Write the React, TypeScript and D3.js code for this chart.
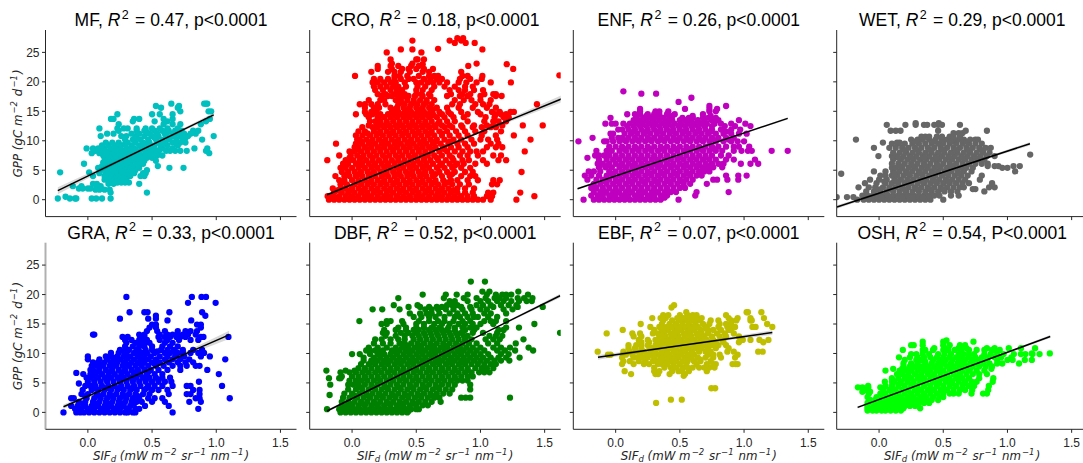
import * as d3 from 'd3'

type Row = [number, number[]]

// each row: one GPP value and the SIF values at that height
const mfRows: Row[] = [
  [0.2, [-.234, -.14, -.1, -.09, .03, .065, .11, .177]], [0.5, [-.174]], [1.2, [.177, .46]],
  [1.7, [.06, .09, .13, .17]], [1.9, [-.07, -.04, 0, .02]], [2.3, [-.117, -.05, .07, .1]],
  [2.7, [.04, .07, .16, .2, .4]], [2.9, [.19, .23, .26, .29, .32]], [3.4, [.13, .16, .2, .24, .3]],
  [4, [.04, .13, .17, .21, .25, .29, .33, .41, .44]], [4.5, [.09, .14, .19, .23, .27, .31, .36, .43, .45]],
  [4.65, [-.216, .01]], [5, [.1, .15, .2, .24, .28, .33, .37, .46]], [5.4, [.08, .12, .17, .22, .27, .31, .36, .4, .635, .745]],
  [5.7, [.11, .15, .2, .25, .3, .34, .39, .545]], [6.1, [-.03, .14, .18, .23, .28, .33, .38, .43]],
  [6.6, [.15, .2, .25, .3, .35, .4, .44, .53]], [7.1, [.13, .18, .23, .28, .33, .38, .42, .46, .5]],
  [7.5, [.12, .16, .21, .26, .31, .36, .43, .48, .54, .58]], [7.9, [.03, .09, .14, .19, .24, .29, .34, .4, .45, .5, .55, .945]],
  [8.3, [.06, .11, .17, .22, .27, .32, .38, .47, .53, .61, .64, .68, .72, .77, .92]], [8.7, [-.01, .04, .08, .13, .18, .24, .3, .36, .44, .5, .58, .66, .83, .93]],
  [9.2, [.11, .16, .21, .26, .34, .4, .46, .52, .57, .62, .7]], [9.7, [.14, .19, .24, .31, .37, .43, .48, .54, .6, .66, .72, .76]],
  [10.2, [.29, .35, .41, .47, .53, .58, .63, .69, .74, .89]], [10.8, [.1, .26, .3, .37, .44, .5, .55, .61, .67, .72, .78, .98]],
  [11.2, [.15, .2, .34, .4, .48, .54, .6, .66, .7, .75, .8, .84]], [11.7, [.24, .38, .44, .52, .58, .63, .68, .73, .82, .86]],
  [12.1, [.09, .23, .28, .31, .38, .45, .5, .56, .62, .7]], [12.8, [.24, .59, .66, .72, .88]], [13.3, [.35, .52, .62, .92]],
  [13.7, [.18, .2, .36, .4, .59, .66, .95]], [14.5, [.23, .5, .56, .66]], [15, [.72, .94, .96]], [15.6, [.57, .7]],
  [15.9, [.53, .71]], [16.3, [.65, .906, .93, .92]],
  [3.7, [.18, .27]], [4.8, [.16, .26, .35]], [6.35, [.12, .21, .31, .41]], [7.3, [.2, .3, .4, .52]], [8.5, [.2, .34, .42, .56]], [9.45, [.29, .44, .58, .69]], [10.5, [.38, .52, .64, .76]], [11.45, [.46, .62, .72]],
]

const croRows: Row[] = [
  [0, [-.18, -.14, -.1, -.06, -.02, .02, .06, .1, .14, .18, .22, .26, .3, .34, .38, .42, .46, .5, .54, .58, .62, .66, .7, .74, .78, .82, .86, .9, .94, .98, 1.02, 1.08, 1.28]],
  [.6, [-.19, -.15, -.1, -.05, 0, .05, .1, .15, .2, .25, .3, .35, .4, .45, .5, .55, .6, .65, .7, .75, .8, .85, .9, .95, 1.05, 1.09, 1.42]],
  [1.2, [-.14, -.08, -.03, .02, .07, .12, .17, .22, .27, .32, .37, .42, .47, .52, .57, .62, .67, .72, .77, .82, .88, .94, 1.06, 1.1, 1.31]],
  [1.9, [-.15, -.09, -.05, 0, .05, .1, .15, .2, .25, .3, .35, .4, .45, .5, .55, .6, .65, .7, .75, .82, .88, .95]],
  [2.6, [-.09, -.04, .02, .07, .12, .17, .22, .27, .32, .37, .42, .47, .52, .57, .62, .67, .72, .78, .84, .91, 1.09, 1.13]],
  [3.3, [-.1, -.06, 0, .05, .1, .15, .2, .25, .3, .35, .4, .45, .5, .55, .6, .65, .71, .77, .82, .9, .98, 1.1, 1.15]],
  [4, [-.13, -.06, -.02, .03, .08, .13, .18, .23, .28, .33, .38, .43, .48, .53, .58, .63, .7, .76, .85, .92, .96]],
  [4.7, [-.08, -.03, .02, .07, .12, .17, .22, .27, .32, .37, .42, .47, .52, .57, .62, .68, .74, .8, .88, .94, 1.32]],
  [5.4, [-.09, -.05, 0, .05, .1, .15, .2, .25, .3, .35, .4, .45, .5, .55, .6, .66, .72, .78, .85, .92]],
  [6.1, [-.07, -.03, .03, .08, .13, .18, .23, .28, .33, .38, .43, .48, .53, .58, .63, .7, .76, .82, .87, .96, 1.05]],
  [6.7, [-.193, -.05, -.02, .01, .06, .11, .16, .21, .26, .31, .36, .41, .46, .51, .56, .61, .67, .73, .79, .86, .91, 1.02, 1.14, 1.2]],
  [7.5, [-.1, -.01, .04, .09, .14, .19, .24, .29, .34, .39, .44, .49, .54, .59, .64, .7, .76, .84, .9, .98, 1.1, 1.16]],
  [8.2, [-.02, .02, .07, .12, .17, .22, .27, .32, .37, .42, .47, .52, .57, .62, .68, .74, .8, .86, .92, .97, 1.02, 1.345]],
  [8.9, [.02, .05, .1, .15, .2, .25, .3, .35, .4, .45, .5, .55, .6, .65, .71, .77, .83, .9, 1.05, 1.12, 1.17]],
  [9.5, [-.125, .03, .08, .13, .18, .23, .28, .33, .38, .43, .48, .53, .58, .63, .69, .75, .82, .88, .95, 1.08, 1.14]],
  [10.2, [.04, .06, .11, .16, .21, .26, .31, .36, .41, .46, .51, .56, .61, .66, .72, .79, .85, .93, 1, 1.06, 1.13, 1.39]],
  [10.9, [.03, .08, .14, .19, .24, .29, .34, .39, .44, .49, .54, .59, .64, .7, .76, .83, .9, 1.01, 1.12, 1.26]],
  [11.6, [.05, .1, .17, .22, .27, .32, .37, .42, .47, .52, .57, .62, .68, .74, .81, .88, .96, 1.03, 1.16]],
  [12.3, [.08, .16, .2, .25, .3, .35, .4, .45, .5, .55, .6, .65, .72, .78, .86, .94, 1.01, 1.08, 1.12]],
  [12.6, [.13, .19, .24, .29, .34, .39, .44, .49, .54, .59, .64, .7, .76, .85, .95, 1.05, 1.1, 1.17, 1.33, 1.485]],
  [13.3, [.14, .18, .22, .27, .32, .37, .42, .47, .52, .57, .62, .68, .74, .8, .9, 1.03, 1.1, 1.14, 1.2]],
  [14, [.13, .2, .25, .3, .35, .4, .45, .5, .55, .6, .66, .72, .79, .87, 1.04, 1.11, 1.18, 1.22]],
  [14.5, [.03, .11, .16, .22, .28, .33, .38, .43, .48, .53, .58, .63, .7, .77, .9, 1, 1.12, 1.16, 1.2]],
  [14.9, [.1, .15, .19, .31, .36, .41, .46, .51, .56, .61, .68, .75, .85, .98, 1.09, 1.15, 1.235, 1.26]],
  [15.6, [.1, .17, .21, .3, .35, .4, .45, .5, .55, .6, .66, .74, .83, .94, 1.05, 1.12]],
  [16.2, [.06, .1, .15, .2, .26, .36, .41, .46, .51, .56, .62, .78, .84, .96, 1.02, 1.07, 1.44]],
  [16.9, [.13, .22, .25, .34, .38, .43, .48, .53, .58, .64, .8, .87, .93, 1, 1.08]],
  [17.6, [.23, .28, .31, .36, .4, .44, .49, .55, .61, .74, .84, .9, 1, 1.12, 1.165]],
  [17.9, [.2, .26, .33, .37, .41, .5, .54, .6, .77, .86, .92, 1.03, 1.12, 1.1]],
  [18.6, [.18, .24, .3, .35, .39, .5, .55, .62, .76, .83, .88, .95, 1.02]],
  [19.2, [.17, .22, .27, .32, .36, .42, .51, .57, .64, .72, .8, .88, .94]],
  [19.9, [.16, .2, .25, .3, .34, .41, .5, .54, .59, .63, .68, .74, .83, .89, .97, 1.08, 1.237]],
  [20.5, [.17, .22, .28, .33, .38, .44, .48, .56, .61, .66, .7, .84, .92, 1.01]],
  [21, [.023, .33, .37, .43, .52, .6, .64, .67, .86, .9, 1.015]],
  [21.7, [.15, .28, .33, .38, .45, .55, .6, .85]],
  [22.2, [.2, .31, .39, .44, .5, .56, .63, 1.255]], [22.7, [.2, .3, .36, .46, .52, .905]], [23.1, [.31, .47, .97]],
  [23, [.55, 1.205]], [23.8, [.3, .5, .51, .56]], [25, [.27, .54]], [25.5, [.38, .47, 1.015]], [25.6, [.67]],
  [26.6, [.8, .885, .955]], [27, [.47, .76, .85]], [27.4, [.82, .865]], [21.1, [1.615]],
  [.3, [-.12, -.04, .04, .12, .2, .28, .36, .44, .52, .6, .68, .76, .84]], [1.6, [-.11, -.01, .09, .19, .29, .39, .49, .59, .69, .79]],
  [2.95, [-.07, .05, .14, .24, .34, .44, .54, .64, .74]], [4.35, [-.04, .05, .15, .25, .35, .45, .55, .65, .78]],
  [5.75, [-.05, .06, .17, .27, .37, .47, .57, .68, .8]], [7.1, [-.02, .07, .16, .26, .36, .46, .56, .66, .78]],
  [8.55, [.04, .12, .22, .32, .42, .52, .62, .72]], [9.85, [.07, .15, .25, .35, .45, .55, .65, .76]],
  [11.25, [.12, .2, .3, .4, .5, .6, .7]], [12.95, [.2, .27, .37, .47, .57, .67]], [14.25, [.22, .32, .42, .52, .62]],
  [15.3, [.18, .33, .43, .53, .63]], [16.55, [.38, .48, .58]],
]

const enfRows: Row[] = [
  [0, [-.25, -.17, -.13, -.09, -.05, -.01, .03, .07, .11, .15, .19, .23, .27, .31, .35, .49]],
  [.7, [-.19, -.14, -.1, -.05, 0, .05, .1, .15, .2, .25, .3, .35, .4, .62]], [1.3, [-.17, -.12, -.07, -.02, .03, .08, .13, .18, .23, .28, .33, .38, .43, .47, .63, .88]],
  [2, [-.19, -.15, -.1, -.05, 0, .05, .1, .15, .2, .25, .3, .35, .4, .45, .5, .54]], [2.7, [-.17, -.12, -.07, -.02, .03, .08, .13, .18, .23, .28, .33, .38, .43, .48, .53, .58, .71]],
  [3.4, [-.22, -.15, -.1, -.05, 0, .05, .1, .15, .2, .25, .3, .35, .4, .45, .5, .55, .6, .76, .79, .87, .955]],
  [4.1, [-.24, -.19, -.13, -.07, -.02, .03, .08, .13, .18, .23, .28, .33, .38, .43, .48, .53, .58, .63, .67, .86, .955, 1.02]],
  [4.8, [-.21, -.17, -.12, -.05, 0, .05, .1, .15, .2, .25, .3, .35, .4, .45, .5, .55, .6, .65, .69, .73]],
  [5.5, [-.13, -.08, -.03, .03, .08, .13, .18, .23, .28, .33, .38, .43, .48, .53, .58, .63, .68, .72, .76, .83]],
  [6.1, [-.14, -.1, -.05, 0, .05, .1, .15, .2, .25, .3, .35, .4, .45, .5, .55, .6, .65, .7, .75, .8, .84, .975, 1.05, 1.11]],
  [6.8, [-.13, -.07, -.02, .03, .08, .13, .18, .23, .28, .33, .38, .43, .48, .53, .58, .63, .68, .73, .78, .86, .92, 1.085]],
  [7.1, [-.22]], [7.5, [-.16, -.13, -.09, -.05, 0, .05, .1, .15, .2, .25, .3, .35, .4, .45, .5, .55, .6, .65, .7, .75, .82, .88]],
  [8.3, [-.15, -.07, -.03, .03, .08, .13, .18, .23, .28, .33, .38, .43, .48, .53, .58, .63, .68, .73, .78, .83, .92, .98, 1.03, 1.06, 1.215, 1.34]],
  [9, [-.05, 0, .05, .1, .15, .2, .25, .3, .35, .4, .45, .5, .55, .6, .65, .7, .75, .8, .86, .92, .96, 1.04]],
  [9.9, [-.29, -.09, -.07, -.02, .03, .08, .13, .18, .23, .28, .33, .38, .43, .48, .53, .58, .63, .68, .73, .78, .84, .9, .95, 1]],
  [10.5, [-.18, -.03, .02, .05, .1, .15, .2, .25, .3, .35, .4, .45, .5, .55, .6, .65, .7, .75, .8, .86, .92]],
  [11.2, [-.04, -.02, .07, .12, .17, .22, .27, .32, .37, .42, .47, .52, .57, .62, .67, .72, .78, .84, .9, .96, 1.02]],
  [11.9, [.02, .05, .1, .15, .2, .25, .3, .35, .4, .45, .5, .55, .6, .65, .7, .75, .82, .9, .97]],
  [12.5, [.09, .14, .19, .24, .29, .34, .39, .44, .49, .54, .59, .64, .69, .75, .85, .93, 1.05]],
  [12.9, [-.08, -.03, 0, .06, .11, .16, .21, .26, .31, .36, .41, .46, .51, .56, .61, .66, .71, .77, .82, .9, 1.01]],
  [13.5, [.14, .19, .24, .29, .34, .39, .44, .5, .54, .59, .64, .69, .75, .8, .96]], [13.9, [-.04, .16, .22, .27, .31, .37, .42, .52, .57, .6, .68, .72, .78]],
  [14.5, [.09, .15, .19, .25, .3, .34, .4, .46, .68]], [15, [.19, .31, .34, .41, .73, .78]], [15.4, [.19, .54, .73, .79]], [15.9, [.73, .86]],
  [16.6, [.49]], [17.3, [.59]], [18, [.2, .315]], [18.4, [.06]],
  [.35, [-.12, -.02, .08, .18, .28, .38]], [1.65, [-.1, 0, .1, .2, .3, .4]], [3.05, [-.08, .02, .12, .22, .32, .42, .52]], [4.45, [-.04, .06, .16, .26, .36, .46, .56]],
  [5.8, [-.06, .04, .14, .24, .34, .44, .54, .64, .74]], [7.15, [0, .1, .2, .3, .4, .5, .6, .7]], [8.65, [.06, .16, .26, .36, .46, .56, .66, .76]],
  [10.2, [.06, .16, .26, .36, .46, .56, .66, .76, .88]], [11.55, [.14, .24, .34, .44, .54, .64, .74, .86]], [12.7, [.2, .3, .4, .5, .6, .7]], [14.2, [.24, .32, .44, .6, .74]],
]

const wetRows: Row[] = [
  [0, [-.17, -.12, -.08, -.04, 0, .04, .08, .12, .16, .2, .24, .28, .32, .36, .4, .5]], [.45, [-.33, -.2, -.25]],
  [.7, [-.13, -.09, -.05, -.01, .03, .07, .11, .15, .19, .23, .27, .31, .35, .39, .43, .47, .56, .62]],
  [1.4, [-.1, -.04, .01, .06, .11, .16, .21, .26, .31, .36, .41, .46, .51, .56, .61, .82]], [1.8, [.75, .73]],
  [2.1, [-.16, -.08, -.03, .03, .08, .13, .18, .23, .28, .33, .38, .43, .48, .53, .58, .63, .66, .9, .857]],
  [2.8, [-.11, -.02, .05, .1, .15, .2, .25, .3, .35, .4, .45, .5, .55, .6, .65, .7, .88]],
  [3.4, [-.07, 0, .06, .12, .17, .22, .27, .32, .37, .42, .47, .52, .57, .62, .67, .785]],
  [4.1, [.01, .05, .1, .14, .19, .24, .29, .34, .39, .44, .49, .54, .59, .64, .69, .8]],
  [4.4, [-.295]], [4.8, [-.04, .05, .11, .16, .21, .26, .31, .36, .41, .46, .51, .56, .61, .66, .72, 1.06]],
  [5.4, [.1, .13, .18, .23, .28, .33, .38, .43, .48, .53, .58, .63, .68, .73, .96, 1]],
  [5.7, [.9, .93, 1.047, 1.096, .846]], [6.1, [.1, .15, .2, .25, .3, .35, .4, .45, .5, .55, .6, .65, .7, .75, .8, .846]],
  [6.8, [.11, .17, .22, .27, .32, .37, .42, .47, .52, .57, .62, .67, .72, .77, .82]],
  [7.4, [-.005, .1, .14, .19, .24, .29, .34, .39, .44, .49, .54, .59, .64, .69, .74, .79, .84, .9]], [7.65, [1.177]],
  [8, [.11, .16, .21, .26, .31, .36, .41, .46, .51, .56, .61, .66, .71, .76, .81, .86]],
  [8.8, [-.04, .08, .13, .18, .23, .28, .33, .38, .43, .48, .53, .58, .63, .68, .73, .78, .83, .87]],
  [9.5, [.1, .15, .2, .26, .31, .36, .41, .46, .5, .55, .6, .65, .7, .75, .8]], [9.7, [.03, .14, .16]],
  [10.2, [-.18, .25, .3, .34, .39, .44, .49, .53, .58, .62, .66, .71, .75, .77]],
  [10.7, [.33, .36, .39, .45, .49, .55, .58, .63]], [11.3, [.58, .62, .65]], [11.7, [.09, .13, .167, .46, .84, .675]],
  [12.7, [.06, .205, .285, .35, .375, .43, .46, .49, .63]], [13, [.285, .465]],
  [.35, [-.06, .02, .1, .18, .26, .34]], [1.75, [0, .1, .2, .3, .4, .5]], [3.1, [.04, .14, .24, .34, .44, .54]], [4.45, [.12, .22, .32, .42, .52, .62]],
  [5.75, [.16, .26, .36, .46, .56, .66]], [7.1, [.15, .25, .35, .45, .55, .65, .75]], [8.4, [.2, .3, .4, .5, .6, .7, .8]], [9.85, [.28, .42, .56, .68]],
]

const graRows: Row[] = [
  [0, [-.19, -.09, -.06, -.03, .01, .05, .09, .13, .17, .21, .25, .29, .31, .35, .37, .66]],
  [.6, [-.1, -.05, 0, .05, .1, .15, .2, .25, .3, .37, .4, .86]], [1.1, [-.13, -.08, -.02, .03, .08, .13, .18, .23, .28, .33, .445, .63]],
  [1.8, [-.07, -.02, .04, .09, .14, .19, .24, .29, .34, .38, .42, .5, .6, .79, .88]], [2.4, [-.13, -.11, -.01, .05, .1, .15, .2, .25, .3, .35, .4, .47, .52, .58, .84, .87, 1.105]],
  [3.1, [-.05, 0, .07, .12, .17, .22, .27, .32, .37, .43, .48, .63, .77, .8, .87]], [3.8, [-.04, .03, .08, .13, .18, .23, .28, .33, .38, .44, .5, .55, .62, .82, .87]],
  [4.5, [-.02, .02, .06, .11, .16, .21, .26, .31, .36, .41, .47, .52, .58, .66, .77, .8, 1.045]], [4.9, [-.07]],
  [5.2, [0, .05, .1, .15, .2, .25, .3, .35, .4, .45, .5, .55, .6, .65, .865]], [5.9, [-.01, .03, .08, .13, .18, .23, .28, .33, .38, .43, .48, .53, .58, .64]],
  [6.5, [-.036, .02, .06, .11, .16, .21, .26, .31, .36, .41, .46, .52, .58, 1.02]], [6.7, [-.09]], [7.2, [.02, .04, .09, .14, .19, .24, .29, .34, .39, .44, .49, .55, .62, .93, .72]],
  [7.9, [.03, .07, .12, .17, .22, .27, .32, .37, .42, .47, .53, .59, .66, .72, .77, .84, .87]], [8.5, [.04, .08, .13, .18, .23, .28, .34, .39, .44, .5, .56, .63, .7, .76, .82]],
  [9, [0, .09, .15, .2, .25, .3, .36, .41, .47, .53, .6, .66, .72, .79, 1.07]], [9.5, [0, .14, .18, .23, .28, .33, .39, .44, .49, .56, .62, .68, .75, .88, .95]],
  [10.1, [.18, .24, .3, .36, .42, .46, .52, .6, .64, .7, .74, .8, .86, .905]], [10.6, [.25, .3, .32, .38, .45, .5, .57, .62, .67, .74, .82, .89]],
  [11.2, [.29, .35, .4, .44, .5, .58, .64, .7]], [11.8, [.3, .37, .41, .44, .48, .6, .66]], [12.3, [.29, .34, .4, .42, .46, .56, .62, .71, .8, .86]],
  [12.8, [.27, .31, .41, .44, .55, .6, .64, .69, .72, .76, .88, .9, 1.095]], [13.2, [.05, .04, .4, .44, .56, .62, .66, .7, .74, .78, .84]], [13.8, [.46, .54, .6, .7, .76, .8, .85]],
  [14.4, [.48, .53, .88]], [14.9, [.5, .53, .85, .88]], [15.6, [.62, .805]], [15.9, [.25, .47, .53]], [16.4, [.53, .915]], [17, [.325, .44, .465, .635, .89]],
  [18.6, [.78, .995]], [19.6, [.3, .81, .885, .92]],
  [.3, [-.07, .03, .12, .22, .32]], [1.45, [-.04, .06, .16, .26, .36]], [2.75, [-.02, .09, .19, .29, .39]], [4.15, [.05, .15, .25, .35, .46]],
  [5.55, [.05, .15, .25, .35, .45, .55]], [6.85, [.07, .17, .27, .37, .47]], [8.2, [.1, .2, .3, .41, .52]], [9.25, [.21, .31, .43]], [10.35, [.28, .4, .54, .68]],
]

const dbfRows: Row[] = [
  [0, [-.09, -.05, -.01, .03, .07, .11, .15, .19, .23, .27, .31, .35, .39, .43]], [.55, [-.195, -.1, -.06, -.02, .02, .06, .1, .14, .18, .22, .26, .3, .34, .38, .42, .46, .5, .52]],
  [1.2, [-.08, -.04, 0, .05, .1, .15, .2, .25, .3, .35, .4, .45, .5, .55, .59]], [1.8, [-.08, -.03, .02, .07, .12, .17, .22, .27, .32, .37, .42, .47, .52, .57, .62, .69]],
  [2.5, [-.07, -.02, .04, .09, .14, .19, .24, .29, .34, .39, .44, .49, .54, .59, .64, .68, .85, .885, .92, 1.23]], [2.95, [-.175]],
  [3.2, [-.06, 0, .06, .11, .16, .21, .26, .31, .36, .41, .46, .51, .56, .61, .66, .71, .76]], [3.9, [-.03, .03, .08, .13, .18, .23, .28, .33, .38, .43, .48, .53, .58, .63, .68, .73, .78, .92]],
  [4.7, [-.17, -.03, .01, .05, .1, .15, .2, .25, .3, .35, .4, .45, .5, .55, .6, .65, .7, .75, .8, .92]], [5.4, [-.02, .03, .07, .12, .17, .22, .27, .32, .37, .42, .47, .52, .57, .62, .67, .72, .77, .82, .86, .9]],
  [5.8, [-.18, -.1, -.09]], [6.1, [-.08, 0, .05, .1, .15, .2, .25, .3, .35, .4, .45, .5, .55, .6, .65, .7, .75, .8, .85, .9, .94]], [6.8, [-.09, -.02, .03, .08, .13, .18, .23, .28, .33, .38, .43, .48, .53, .58, .63, .68, .73, .78, .83, .88, .93, .99, 1.03, 1.07]],
  [7.1, [-.2, -.05, .02]], [7.5, [.05, .1, .15, .2, .25, .3, .35, .4, .45, .5, .55, .6, .65, .7, .75, .8, .85, .9, .96, 1.01, 1.05, 1.1]], [8.2, [.07, .13, .18, .23, .28, .33, .38, .43, .48, .53, .58, .63, .68, .73, .78, .83, .88, .93, .98, 1.03, 1.08, 1.12]],
  [8.8, [.09, .15, .2, .25, .3, .35, .4, .45, .5, .55, .6, .65, .7, .75, .8, .85, .9, .95, 1, 1.05, 1.11, 1.16, 1.225]], [9.3, [.09, .17, .22, .27, .32, .37, .42, .47, .52, .57, .62, .67, .72, .77, .82, .87, .92, .97, 1.02, 1.08, 1.14, 1.2, 1.305]],
  [9.9, [0, .06, .14, .2, .25, .3, .35, .4, .45, .5, .55, .6, .65, .7, .75, .8, .85, .9, .95, 1, 1.06, 1.16, 1.22]], [10.5, [.11, .14, .18, .24, .31, .37, .42, .47, .52, .57, .62, .67, .72, .77, .82, .87, .92, .97, 1.03, 1.13, 1.19, 1.27, 1.41]],
  [11, [.13, .2, .27, .34, .39, .44, .49, .54, .59, .64, .69, .74, .79, .84, .89, .94, 1, 1.1, 1.16, 1.23, 1.375]], [11.7, [.17, .24, .3, .37, .41, .46, .51, .56, .61, .66, .71, .76, .81, .86, .91, .97, 1.06, 1.13, 1.275]],
  [12.4, [.18, .23, .3, .36, .41, .48, .53, .58, .63, .68, .73, .78, .83, .88, .93, 1.04, 1.1, 1.15, 1.335]], [13, [.26, .34, .41, .47, .52, .57, .62, .67, .72, .77, .82, .87, .9, 1.07, 1.12, 1.17]],
  [13.5, [.24, .27, .38, .44, .5, .56, .61, .66, .71, .76, .81, .85, .94, 1.02, 1.13, 1.62]], [14, [.25, .34, .42, .48, .52, .6, .65, .7, .74, .8, .88, .95, 1.14, 1.18]], [14.4, [.36, .42, .5, .56, .62, .68, .75, .8, .86, .92, .97, 1.2, 1.3]],
  [15, [.23, .27, .4, .5, .56, .64, .7, .76, .83, .88, .94, 1, 1.1, 1.42]], [15.5, [.057, .27, .3, .39, .52, .6, .67, .72, .79, .86, .92, 1.03, 1.08, 1.12, 1.2]], [16.2, [.48, .54, .6, .65, .72, .8, .84, .9, .95, .98, 1.06, 1.13]],
  [16.8, [.45, .53, .58, .62, .68, .76, .82, .88, .94, 1.03, 1.08, 1.2]], [17.5, [.16, .235, .37, .57, .62, .67, .73, .79, .86, .93, 1, 1.05, 1.18, 1.25]], [17.9, [.44, .53, .6, .66, .7, .85, .92, 1.1, 1.29, 1.485]],
  [18.2, [.325, .51, .74, .78, .82, .97, 1.02, 1.08, 1.16, 1.22, 1.28]], [18.9, [.76, .8, .9, 1, 1.06, 1.13, 1.18, 1.24, 1.3, 1.36, 1.4]], [19.4, [.36, .715, .87, .97, 1.04, 1.11, 1.15, 1.2, 1.29, 1.34, 1.405]],
  [20, [.55, .73, .815, .9, 1.05, 1.12, 1.17, 1.2, 1.24, 1.37]], [20.5, [1.015, 1.07, 1.295]], [22.2, [.925, 1.035]],
  [.25, [-.04, .04, .12, .2, .28, .36, .44]], [1.5, [-.02, .08, .18, .28, .38, .48]], [2.85, [.02, .12, .22, .32, .42, .52, .62]], [4.3, [.06, .16, .26, .36, .46, .56, .66]],
  [5.75, [.1, .2, .3, .4, .5, .6, .7, .8]], [7.15, [.1, .2, .3, .4, .5, .6, .7, .8, .9]], [8.5, [.16, .26, .36, .46, .56, .66, .76, .86]], [10.2, [.22, .34, .44, .54, .64, .74, .84]], [11.35, [.42, .52, .62, .72, .82]],
]

const ebfRows: Row[] = [
  [1.6, [.315]], [2.15, [.43, .515]], [4.1, [.745, .775]], [6.2, [.53]], [6.5, [.12, .31, .33, .42, .54]],
  [7, [.07, .3, .34, .44, .49, .57, .71, .52]], [7.6, [.3, .38, .43, .47, .52, .56, .6, .65, .69, .73, .77]], [8.2, [.05, .14, .22, .26, .33, .36, .4, .45, .5, .55, .63, .71, .76, .78, .91, .935, .95]],
  [8.7, [.06, .11, .18, .23, .29, .33, .38, .42, .47, .52, .56, .61, .66, .74]], [9.3, [.05, .14, .17, .21, .25, .3, .35, .4, .44, .49, .54, .59, .64, .7, .76, .82, .93]], [9.8, [-.06, -.04, .08, .13, .19, .24, .28, .33, .37, .42, .47, .51, .56, .61, .72, .76, .81, .95]],
  [10.3, [-.14, .06, .11, .16, .22, .27, .31, .36, .4, .45, .49, .54, .59, .65, .7, .74, .87, .92, 1.11, 1.145]], [10.9, [.1, .15, .2, .28, .33, .38, .43, .47, .52, .57, .62, .67, .72, .78, .88]],
  [11.4, [.1, .16, .2, .25, .31, .36, .41, .45, .5, .55, .6, .65, .7, .75, .8, .86]], [11.9, [.2, .26, .33, .38, .43, .48, .53, .58, .63, .68, .73, .78, .84, .96, 1.15]], [12.3, [.18, .25, .31, .36, .41, .46, .51, .56, .61, .66, .71, .76, .83, .99, 1.05, 1.12, 1.19]],
  [12.9, [.14, .2, .34, .39, .44, .49, .54, .59, .64, .69, .75, .81, .86, .96]], [13.4, [-.07, .13, .19, .29, .33, .38, .43, .48, .53, .58, .63, .67, .72, .79, .85, .92]], [14, [.055, .3, .36, .41, .46, .51, .56, .61, .66, .72, .76, .82, .88, .9]],
  [14.5, [.27, .34, .4, .44, .49, .54, .59, .64, .7, .8, .87, .93, 1.065, 1.09, 1.22]], [15, [.195, .36, .42, .47, .52, .57, .62, .68, .73, .81, .86, .9, 1.18]], [15.6, [.37, .44, .5, .55, .6, .65, .74, .8, .9, .94, 1.05, 1.06]],
  [16, [.285, .35, .39, .48, .53, .58, .63, .67, .88, .95, 1.05, 1.155]], [16.5, [.37, .41, .5, .56, .6, .63, .86]], [17, [1.02, 1.03, 1.135, .55]], [17.8, [.435]], [18.2, [.455]],
  [8.95, [.36, .46, .56, .66]], [10.05, [.3, .4, .5, .6]], [11.15, [.26, .36, .46, .56, .66]], [12.1, [.4, .5, .6, .7]], [13.15, [.36, .46, .56, .66]], [14.25, [.38, .48, .58, .7]],
]

const oshRows: Row[] = [
  [.3, [-.09, -.05, -.02, .02, .05, .09, .13, .17]], [.7, [-.09, -.05, 0, .04, .08, .12, .16, .19, .32]], [1.1, [-.09, -.04, 0, .04, .08, .12, .16, .2, .24, .28]],
  [1.6, [-.09, -.05, -.01, .03, .07, .11, .15, .19, .23, .27, .31, .35, .39]], [2.1, [-.07, -.03, .01, .05, .09, .13, .17, .21, .25, .29, .33, .37, .41, .46]], [2.6, [-.09, -.02, .03, .07, .12, .17, .22, .27, .32, .37, .42, .47, .5]],
  [3.2, [-.08, .01, .05, .1, .15, .2, .25, .3, .35, .4, .45, .5, .55, .58, .62, .72, .81, .84]], [3.5, [-.07, -.13]], [3.8, [-.11, .03, .08, .13, .18, .23, .28, .33, .38, .43, .48, .53, .58, .63, .67, .725, .85]], [4.25, [-.165, -.13, -.085, .01]],
  [4.5, [-.085, .05, .1, .15, .2, .25, .3, .35, .4, .45, .5, .55, .6, .65, .7, .74, .855]], [5.2, [.045, .1, .12, .17, .22, .27, .32, .37, .42, .47, .52, .57, .62, .67, .72, .76, .885]], [5.8, [.1, .15, .2, .25, .3, .35, .4, .45, .5, .55, .6, .65, .7, .78, .89]],
  [6.5, [.14, .18, .23, .28, .33, .38, .43, .48, .53, .58, .63, .68, .73, .78, .84]], [7.1, [.05, .16, .2, .25, .3, .35, .4, .45, .5, .55, .6, .65, .7, .76, .82]], [7.4, [.11, .875, .18, .23, .31, .39, .47, .62, .71]],
  [7.8, [.19, .24, .28, .33, .38, .43, .48, .53, .58, .63, .68, .73, .78, .83, .88]], [8.3, [.19, .25, .3, .36, .41, .46, .51, .56, .61, .66, .71, .76, .81, .86, .92, .96, 1.09]], [8.9, [.2, .29, .33, .42, .47, .52, .57, .62, .67, .72, .78, .84, .92, 1, 1.04, 1.135, 1.19]],
  [9.35, [.155, .24, .3, .35, .4, .45, .5, .55, .6, .65, .7, .75, .8, .85, .9, .95, 1.03]], [9.9, [.25, .29, .34, .39, .46, .51, .56, .62, .66, .7, .74, .82, .87, .92, .97, 1.05, 1.105, 1.14, 1.195, 1.25]], [10, [1.33, 1.19]],
  [10.6, [.185, .34, .36, .42, .5, .54, .59, .64, .7, .76, .82, .88, .895, .94]], [10.9, [.43, .51, .62, .68, .84, .9, 1.01, 1.105, 1.215]], [11.4, [.25, .27, .34, .5, .55, .63, .67]], [12, [.34, .5, .735]], [12.2, [.525]],
  [.9, [-.02, .06, .14]], [2.35, [.06, .16, .26, .36]], [3.5, [.1, .2, .3, .4, .5]], [4.85, [.16, .26, .36, .46, .56, .66]], [6.15, [.22, .32, .42, .52, .62]], [7.55, [.26, .36, .44, .56, .66]], [8.6, [.36, .5, .64, .74]],
]

const titles = ['MF', 'CRO', 'ENF', 'WET', 'GRA', 'DBF', 'EBF', 'OSH']
const rSquared = ['0.47', '0.18', '0.26', '0.29', '0.33', '0.52', '0.07', '0.54']
const pLabels = ['p', 'p', 'p', 'p', 'p', 'p', 'p', 'P']
const colors = ['#00bfbf', '#ff0000', '#bf00bf', '#666666', '#0000ff', '#008000', '#bfbf00', '#00ff00']
const allRows = [mfRows, croRows, enfRows, wetRows, graRows, dbfRows, ebfRows, oshRows]

// regression ends: sif0, gpp0, sif1, gpp1
const fitLines = [
  [-.234, 1.53, .98, 14.4], [-.195, .85, 1.63, 17.1], [-.297, 1.87, 1.34, 13.8], [-.328, -1.25, 1.175, 9.5],
  [-.19, .96, 1.1, 13.15], [-.195, .23, 1.62, 19.8], [-.138, 9.35, 1.22, 13.55], [-.167, .85, 1.333, 12.87],
]
// half width of the confidence band at the low end, the middle and the high end
const bandWidths = [
  [.6, .2, .35], [.25, .1, .6], [.15, .05, .2], [.3, .1, .3], [.4, .2, .7], [.2, .05, .35], [.4, .15, .4], [.2, .08, .25],
]

const xTicks = [0, 0.5, 1, 1.5]
const yTicks = [0, 5, 10, 15, 20, 25]
const xDomain = [-0.33, 1.625]
const yDomain = [-2.87, 28.8]

const panelLefts = [45.5, 309.7, 573.3, 836.7]
const rowTops = [30, 242.7]
const panelWidth = 251
const panelHeight = 186.6
const ink = '#262626'
const sans = '"Liberation Sans", Arial, sans-serif'
const mathFont = '"DejaVu Sans", sans-serif'

const Sup = ({ children, size }: { children: string; size: number }) => (
  <>
    <tspan dy={-size * 0.6} dx={size * 0.12} fontSize={size}>{children}</tspan>
    <tspan dy={size * 0.6}>{'\u200a'}</tspan>
  </>
)

const Panel = ({ index }: { index: number }) => {
  const col = index % 4
  const row = Math.floor(index / 4)
  const x = d3.scaleLinear().domain(xDomain).range([0, panelWidth])
  const y = d3.scaleLinear().domain(yDomain).range([panelHeight, 0])
  const points = allRows[index].flatMap(([gpp, sifs]) => sifs.map((sif) => [sif, gpp]))
  const [x0, y0, x1, y1] = fitLines[index]
  const [w0, wm, w1] = bandWidths[index]
  const band = [
    { sif: x0, low: y0 - w0, high: y0 + w0 },
    { sif: (x0 + x1) / 2, low: (y0 + y1) / 2 - wm, high: (y0 + y1) / 2 + wm },
    { sif: x1, low: y1 - w1, high: y1 + w1 },
  ]
  const bandPath = d3.area<(typeof band)[number]>()
    .x((d) => x(d.sif))
    .y0((d) => y(d.low))
    .y1((d) => y(d.high))
    .curve(d3.curveMonotoneX)(band)
  const fitPath = d3.line()([[x(x0), y(y0)], [x(x1), y(y1)]])
  const clipId = `clip-${index}`

  return (
    <g transform={`translate(${panelLefts[col]},${rowTops[row]})`}>
      <clipPath id={clipId}><rect x={0} y={0} width={panelWidth} height={panelHeight} /></clipPath>
      <g clipPath={`url(#${clipId})`}>
        {points.map(([sif, gpp], i) => (
          <circle key={i} cx={x(sif)} cy={y(gpp)} r={3.15} fill={colors[index]} />
        ))}
        <path d={bandPath || undefined} fill="#000" fillOpacity={0.15} />
        <path d={fitPath || undefined} stroke="#000" strokeWidth={1.5} fill="none" />
      </g>
      <line x1={0} x2={0} y1={0} y2={panelHeight} stroke={index === 4 ? '#b0b0b0' : ink} strokeWidth={index === 4 ? 2 : 1} />
      <line x1={0} x2={panelWidth} y1={panelHeight} y2={panelHeight} stroke={ink} strokeWidth={1} />
      {xTicks.map((t) => (
        <g key={t} transform={`translate(${x(t)},${panelHeight})`}>
          <line y2={3.5} stroke={ink} strokeWidth={1} />
          {row === 1 && (
            <text y={17.5} textAnchor="middle" fontFamily={sans} fontSize={12} fill={ink}>{d3.format('.1f')(t)}</text>
          )}
        </g>
      ))}
      {yTicks.map((t) => (
        <g key={t} transform={`translate(0,${y(t)})`}>
          <line x2={-3.5} stroke={ink} strokeWidth={1} />
          {col === 0 && (
            <text x={-6} y={4.3} textAnchor="end" fontFamily={sans} fontSize={12} fill={ink}>{t}</text>
          )}
        </g>
      ))}
      <text x={panelWidth / 2} y={-4} textAnchor="middle" fontFamily={sans} fontSize={17.5} fill="#000">
        {titles[index]}, <tspan fontStyle="italic">R</tspan>
        <Sup size={12.5}>2</Sup> = {rSquared[index]}, {pLabels[index]}&lt;0.0001
      </text>
      {row === 1 && (
        <text x={panelWidth / 2} y={panelHeight + 31} textAnchor="middle" fontFamily={mathFont} fontStyle="italic" fontSize={11.8} fill={ink}>
          SIF<tspan dy={2} fontSize={8.5}>d</tspan><tspan dy={-2}> (mW m</tspan><Sup size={8.5}>−2</Sup> sr<Sup size={8.5}>−1</Sup> nm<Sup size={8.5}>−1</Sup>)
        </text>
      )}
      {col === 0 && (
        <text transform={`translate(-23.5,${panelHeight / 2}) rotate(-90)`} textAnchor="middle" fontFamily={mathFont} fontStyle="italic" fontSize={11.8} fill={ink}>
          GPP (gC m<Sup size={8.5}>−2</Sup> d<Sup size={8.5}>−1</Sup>)
        </text>
      )}
    </g>
  )
}

export default function App() {
  return (
    <svg width={1083} height={463} style={{ position: 'absolute', left: 0, top: 0, background: '#fff' }}>
      {titles.map((t, i) => <Panel key={t} index={i} />)}
    </svg>
  )
}
